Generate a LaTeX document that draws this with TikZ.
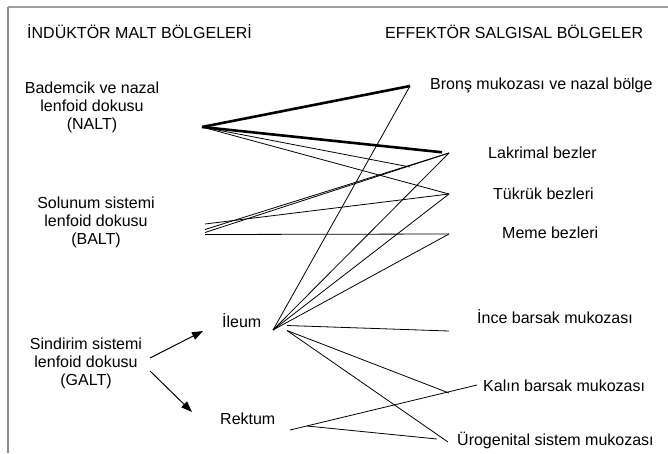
\documentclass[tikz,border=0pt]{standalone}
\usepackage{fontspec}
\setmainfont{Liberation Sans}
\usetikzlibrary{arrows.meta}
\tikzset{
>={Triangle[length=11pt,width=8pt]},
metin/.style={inner sep=0pt,font=\fontsize{16}{18}\selectfont},
blok/.style={metin,align=center},
ince/.style={line width=0.8pt},
kalin/.style={line width=2.6pt},
ok/.style={->,line width=1pt}}

\begin{document}
\begin{tikzpicture}[x=1pt,y=-1pt]
\useasboundingbox (0,0) rectangle (668,453);

% cerceve
\draw[gray!75,line width=1.3pt] (8,7) -- (668,7);
\draw[gray!110!black,line width=1.1pt] (8,7) -- (8,453);

% basliklar
\node[metin,anchor=west] (baslikL) at (27,32) {İNDÜKTÖR MALT BÖLGELERİ};
\node[metin,anchor=west] (baslikR) at (385,32) {EFFEKTÖR SALGISAL BÖLGELER};

% induktor bolgeler
\node[blok] (nalt) at (92,107) {Bademcik ve nazal\\lenfoid dokusu\\(NALT)};
\node[blok] (balt) at (96,222) {Solunum sistemi\\lenfoid dokusu\\(BALT)};
\node[blok] (galt) at (86,363) {Sindirim sistemi\\lenfoid dokusu\\(GALT)};
\node[metin,anchor=west] (ileum) at (222,321) {İleum};
\node[metin,anchor=west] (rektum) at (220,419) {Rektum};

% efektor bolgeler
\node[metin,anchor=west] (bronsL) at (430,85) {Bronş mukozası ve nazal bölge};
\node[metin,anchor=west] (lakL) at (488,153) {Lakrimal bezler};
\node[metin,anchor=west] (tukL) at (493,194) {Tükrük bezleri};
\node[metin,anchor=west] (memeL) at (502,233) {Meme bezleri};
\node[metin,anchor=west] (inceL) at (477,317) {İnce barsak mukozası};
\node[metin,anchor=west] (kalinL) at (483,386) {Kalın barsak mukozası};
\node[metin,anchor=west] (uroL) at (457,440) {Ürogenital sistem mukozası};

% uc noktalar
\coordinate (naltP) at (202,127);
\coordinate (baltA) at (205,224);
\coordinate (baltB) at (205,229.5);
\coordinate (baltC) at (205,232.5);
\coordinate (baltD) at (205,234.5);
\coordinate (ileP) at (273,330);
\coordinate (ileA) at (287,325.5);
\coordinate (ileB) at (287,330.5);
\coordinate (rekP) at (290,430);
\coordinate (rekB) at (307,426);
\coordinate (bronsP) at (410,86);
\coordinate (lakP) at (449,153);
\coordinate (naltX) at (410,167);
\coordinate (tukP) at (449,194);
\coordinate (memeP) at (449,234);
\coordinate (inceP) at (449,331);
\coordinate (kalinP) at (449,393);
\coordinate (kalinU) at (477,385);
\coordinate (uroP) at (448,442);
\coordinate (uroR) at (437,439);
\coordinate (galtA) at (150,358);
\coordinate (galtB) at (150,371);
\coordinate (ileOk) at (203,331);
\coordinate (rekOk) at (192,412);

\path[kalin] (naltP) edge (bronsP);
\path[kalin,shorten >=7pt] (naltP) edge (lakP);
\path[ince] (naltP) edge (naltX);
\path[ince] (naltP) edge (tukP);

\path[ince] (baltA) edge (tukP);
\path[ince] (baltB) edge (lakP);
\path[ince] (baltC) edge (lakP);
\path[ince] (baltD) edge (memeP);

\path[ince] (ileP) edge (bronsP);
\path[ince] (ileP) edge (lakP);
\path[ince] (ileP) edge (tukP);
\path[ince] (ileP) edge (memeP);
\path[ince] (ileA) edge (inceP);
\path[ince] (ileB) edge (kalinP);
\path[ince] (ileB) edge (uroP);

\path[ince] (rekP) edge (kalinU);
\path[ince] (rekB) edge (uroR);

\path[ok] (galtA) edge (ileOk);
\path[ok] (galtB) edge (rekOk);

\end{tikzpicture}
\end{document}
